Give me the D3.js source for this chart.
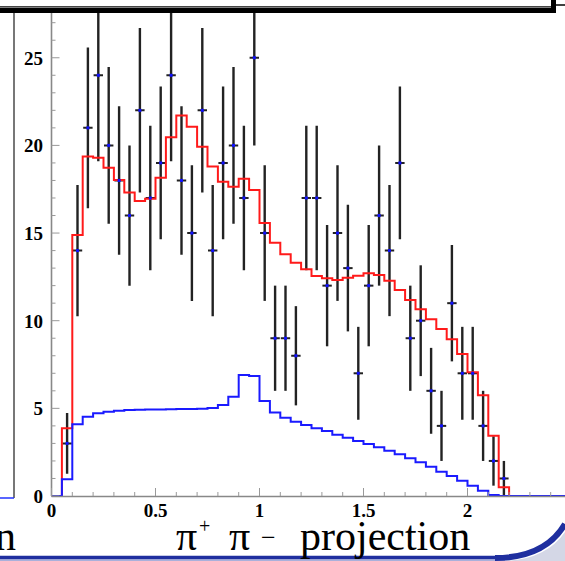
<!DOCTYPE html>
<html>
<head>
<meta charset="utf-8">
<script src="https://cdn.jsdelivr.net/npm/d3@7"></script>
<style>
html,body{margin:0;padding:0;background:#fff;}
svg{display:block;}
</style>
</head>
<body>
<svg id="chart" width="565" height="561"></svg>
<script>
// ---- data ----
// histogram bin lower edges (bin width 0.05)
const binLow = [0.00,0.05,0.10,0.15,0.20,0.25,0.30,0.35,0.40,0.45,0.50,0.55,0.60,0.65,0.70,0.75,0.80,0.85,0.90,0.95,
  1.00,1.05,1.10,1.15,1.20,1.25,1.30,1.35,1.40,1.45,1.50,1.55,1.60,1.65,1.70,1.75,1.80,1.85,1.90,1.95,
  2.00,2.05,2.10,2.15,2.20,2.25,2.30,2.35,2.40,2.45];
const binWidth = 0.05;
// total fit (red)
const fitTotal = [0,3.86,14.89,19.36,19.3,18.73,18.03,17.32,16.83,16.95,18.16,20.46,21.7,21.07,19.93,18.79,17.93,17.64,18.1,17.46,
  15.58,14.45,13.79,13.31,12.93,12.55,12.42,12.32,12.45,12.57,12.7,12.6,12.28,11.75,11.18,10.66,10.08,9.53,8.94,8.1,
  7.06,5.75,3.43,0.5,0,0,0,0,0,0];
// component (blue)
const fitComponent = [0,0.95,4.09,4.52,4.72,4.81,4.87,4.9,4.92,4.93,4.94,4.95,4.96,4.97,4.98,5.02,5.19,5.66,6.9,6.84,
  5.42,4.76,4.47,4.24,4.05,3.86,3.71,3.5,3.33,3.14,2.97,2.78,2.58,2.38,2.15,1.92,1.67,1.39,1.14,0.87,
  0.59,0.3,0.06,0,0,0,0,0,0,0];
// data points
const dataX = [0.075,0.125,0.175,0.225,0.275,0.325,0.375,0.425,0.475,0.525,0.575,0.625,0.675,0.725,0.775,0.825,0.875,0.925,0.975,1.025,
  1.075,1.125,1.175,1.225,1.275,1.325,1.375,1.425,1.475,1.525,1.575,1.625,1.675,1.725,1.775,1.825,1.875,1.925,1.975,2.025,
  2.075,2.125,2.175];
const dataY = [3,14,21,24,20,18,16,22,17,19,24,18,15,22,14,19,20,17,25,15,
  9,9,8,17,17,12,15,13,7,12,16,14,19,9,10,6,4,11,7,7,
  4,2,1];
const dataErr = [1.73,3.74,4.58,4.90,4.47,4.24,4.00,4.69,4.12,4.36,4.90,4.24,3.87,4.69,3.74,4.36,4.47,4.12,5.00,3.87,
  3.00,3.00,2.83,4.12,4.12,3.46,3.87,3.61,2.65,3.46,4.00,3.74,4.36,3.00,3.16,2.45,2.00,3.32,2.65,2.65,
  2.00,1.41,1.00];
const xTickLabels = ["0","0.5","1","1.5","2"];
const xTickValues = [0,0.5,1,1.5,2];
const yTickLabels = ["0","5","10","15","20","25"];
const yTickValues = [0,5,10,15,20,25];

// ---- layout ----
const svg = d3.select("#chart");
const X0 = 51.5, PXU = 208;
const x = d3.scaleLinear().domain([0, 2.5]).range([X0, X0 + PXU*2.5]);
const yTop = 13, yBot = 496;
const y = d3.scaleLinear().domain([0, (yBot - yTop)/17.53]).range([yBot, yTop]);

svg.append("rect").attr("width",565).attr("height",561).attr("fill","#fff");

svg.append("defs").append("clipPath").attr("id","plotclip")
  .append("rect").attr("x",X0).attr("y",yTop).attr("width",565-X0).attr("height",yBot-yTop+2);

// left panel remnants
svg.append("line").attr("x1",14).attr("x2",14).attr("y1",yTop).attr("y2",498)
  .attr("stroke","#555").attr("stroke-width",1.6);
svg.append("line").attr("x1",0).attr("x2",14).attr("y1",498).attr("y2",498)
  .attr("stroke","#2233ff").attr("stroke-width",1.5);

const plot = svg.append("g").attr("clip-path","url(#plotclip)");

// axes
const yAxis = d3.axisRight(y).tickValues(d3.range(0, 28, 1)).tickSize(0).tickFormat("");
const gy = svg.append("g").attr("transform",`translate(${X0},0)`);
gy.append("line").attr("x1",0).attr("x2",0).attr("y1",yTop).attr("y2",yBot)
  .attr("stroke","#888").attr("stroke-width",1.6);
gy.selectAll("line.tk").data(d3.range(0,28,1)).join("line").attr("class","tk")
  .attr("x1",0).attr("x2",d => d%5===0 ? 8 : 4)
  .attr("y1",d => y(d)).attr("y2",d => y(d))
  .attr("stroke","#999").attr("stroke-width",1);
svg.append("g").selectAll("text").data(yTickValues).join("text")
  .attr("x",43).attr("y",d => y(d)).attr("dy","0.36em")
  .attr("text-anchor","end")
  .attr("font-family","'Liberation Serif','Times New Roman',serif")
  .attr("font-weight","bold").attr("font-size",19)
  .text((d,i) => yTickLabels[i]);

const gx = svg.append("g");
gx.append("line").attr("x1",X0).attr("x2",565).attr("y1",yBot+0.5).attr("y2",yBot+0.5)
  .attr("stroke","#888").attr("stroke-width",1.6);
gx.selectAll("line.tk").data(d3.range(0,25,1).map(i => i/10)).join("line").attr("class","tk")
  .attr("x1",d => x(d)).attr("x2",d => x(d))
  .attr("y1",yBot).attr("y2",(d,i) => yBot - (i%5===0 ? 8 : 4))
  .attr("stroke","#999").attr("stroke-width",1);
gx.selectAll("text").data(xTickValues).join("text")
  .attr("x",d => x(d)).attr("y",517)
  .attr("text-anchor","middle")
  .attr("font-family","'Liberation Serif','Times New Roman',serif")
  .attr("font-weight","bold").attr("font-size",19)
  .text((d,i) => xTickLabels[i]);

// histograms
function histPath(vals){
  const pts = binLow.map((b,i) => [b, vals[i]]);
  pts.push([binLow[binLow.length-1] + binWidth, vals[vals.length-1]]);
  return d3.line().x(d => x(d[0])).y(d => y(d[1])).curve(d3.curveStepAfter)(pts);
}

// error bars
const pts = dataX.map((d,i) => ({x:d, y:dataY[i], e:dataErr[i]}));
plot.selectAll("line.err").data(pts).join("line").attr("class","err")
  .attr("x1",d => x(d.x)).attr("x2",d => x(d.x))
  .attr("y1",d => y(d.y + d.e)).attr("y2",d => y(Math.max(0, d.y - d.e)))
  .attr("stroke","#222").attr("stroke-width",2.4);
plot.selectAll("line.hx").data(pts).join("line").attr("class","hx")
  .attr("x1",d => x(d.x - binWidth/2) + 0.5).attr("x2",d => x(d.x + binWidth/2) - 0.5)
  .attr("y1",d => y(d.y)).attr("y2",d => y(d.y))
  .attr("stroke","#222").attr("stroke-width",2);

plot.append("path").attr("d",histPath(fitTotal)).attr("fill","none")
  .attr("stroke","#ff1a1a").attr("stroke-width",2);
plot.append("path").attr("d",histPath(fitComponent)).attr("fill","none")
  .attr("stroke","#1a1aff").attr("stroke-width",2);

plot.selectAll("rect.mk").data(pts).join("rect").attr("class","mk")
  .attr("x",d => x(d.x) - 1.5).attr("y",d => y(d.y) - 1.5)
  .attr("width",3).attr("height",3).attr("fill","#1010ff");

// slide decorations: top frame
svg.append("line").attr("x1",0).attr("x2",553).attr("y1",6.5).attr("y2",6.5)
  .attr("stroke","#444").attr("stroke-width",1);
svg.append("rect").attr("x",0).attr("y",7.5).attr("width",556).attr("height",5.5).attr("fill","#000");
svg.append("rect").attr("x",551).attr("y",0).attr("width",5).attr("height",13).attr("fill","#000");
svg.append("line").attr("x1",556).attr("x2",565).attr("y1",5).attr("y2",5)
  .attr("stroke","#000").attr("stroke-width",1.5);

// bottom decoration
svg.append("path").attr("d","M 500 561 Q 545 561 565 532 L 565 561 Z").attr("fill","#d4d7e6");
svg.append("line").attr("x1",0).attr("x2",505).attr("y1",557.5).attr("y2",557.5)
  .attr("stroke","#1f2f9f").attr("stroke-width",3.5);
svg.append("line").attr("x1",0).attr("x2",505).attr("y1",560).attr("y2",560)
  .attr("stroke","#8d96cf").attr("stroke-width",1.5);
svg.append("path").attr("d","M 495 558 Q 545 558 565 524").attr("fill","none")
  .attr("stroke","#1f2f9f").attr("stroke-width",6);

// title texts
const tf = "'Liberation Serif','Times New Roman',serif";
svg.append("text").attr("x",16).attr("y",550).attr("text-anchor","end")
  .attr("font-family",tf).attr("font-size",42).text("n");
svg.append("text").attr("x",176).attr("y",550).attr("font-family",tf).attr("font-size",42).text("π");
svg.append("text").attr("x",199).attr("y",533).attr("font-family",tf).attr("font-size",20).text("+");
svg.append("text").attr("x",229).attr("y",550).attr("font-family",tf).attr("font-size",42).text("π");
svg.append("text").attr("x",261).attr("y",546).attr("font-family",tf).attr("font-size",26).text("−");
svg.append("text").attr("x",300).attr("y",550).attr("font-family",tf).attr("font-size",42).text("projection");
</script>
</body>
</html>
